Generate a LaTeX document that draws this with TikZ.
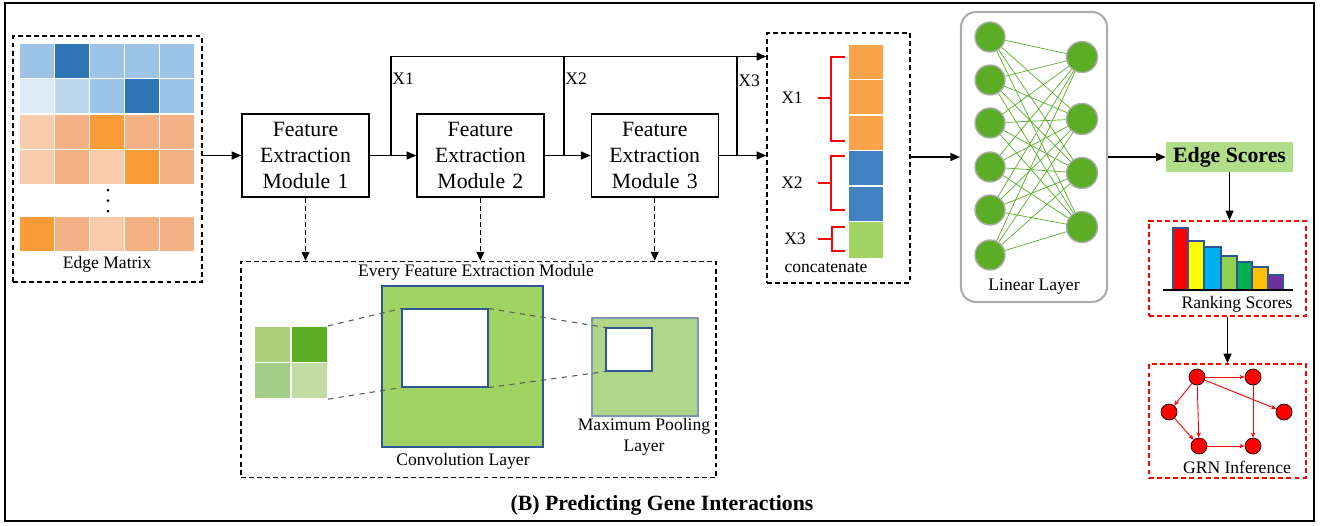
\documentclass[tikz,border=0pt]{standalone}
\usepackage{fontspec}
\setmainfont{LiberationSerif}[Extension=.ttf, UprightFont=*-Regular, BoldFont=*-Bold, ItalicFont=*-Italic, BoldItalicFont=*-BoldItalic]
\usepackage{tikz}
\usetikzlibrary{shapes,arrows,arrows.meta}
\usetikzlibrary{positioning}
\definecolor{lb}{HTML}{9DC3E6}
\definecolor{db}{HTML}{2E75B6}
\definecolor{vb}{HTML}{DEEBF7}
\definecolor{mb}{HTML}{BDD7EE}
\definecolor{pe}{HTML}{F8CBAD}
\definecolor{ta}{HTML}{F4B183}
\definecolor{og}{HTML}{FA9B3A}
\definecolor{vo}{HTML}{FBA349}
\definecolor{vbl}{HTML}{4382C2}
\definecolor{vgr}{HTML}{A0D564}
\definecolor{ngreen}{HTML}{5BAD26}
\definecolor{k1}{HTML}{ADCF78}
\definecolor{k3}{HTML}{A2CF88}
\definecolor{k4}{HTML}{C2DCA3}
\definecolor{convg}{HTML}{9FD462}
\definecolor{poolg}{HTML}{B0D68A}
\definecolor{poolline}{HTML}{7F96B2}
\definecolor{edgeblue}{HTML}{2F5597}
\definecolor{scoreg}{HTML}{B2DE8A}
\definecolor{bar1}{HTML}{FF0000}
\definecolor{bar2}{HTML}{FFFF00}
\definecolor{bar3}{HTML}{00B0F0}
\definecolor{bar4}{HTML}{92D050}
\definecolor{bar5}{HTML}{00B050}
\definecolor{bar6}{HTML}{FFC000}
\definecolor{bar7}{HTML}{7030A0}
\tikzstyle{module} = [rectangle, draw, line width=0.8pt, text width=2.2cm, align=center,
    minimum width=2.54cm, minimum height=1.66cm, font=\fontsize{12.4}{14.8}\selectfont]
\tikzstyle{dashbox} = [draw, line width=0.9pt, dash pattern=on 2.8pt off 1.8pt, inner sep=0pt]
\tikzstyle{redbox} = [draw=red, line width=0.9pt, dash pattern=on 2.8pt off 1.8pt, inner sep=0pt]
\tikzstyle{line} = [draw, line width=0.8pt, -{Triangle[length=5.5pt,width=4.6pt]}]
\tikzstyle{dline} = [draw, line width=0.8pt, dash pattern=on 2.8pt off 1.8pt, -{Triangle[length=5pt,width=4.4pt]}]
\tikzstyle{cell} = [draw=white, line width=0.4pt, minimum size=0.7cm, inner sep=0pt]
\tikzstyle{neuron} = [circle, draw=gray!65, line width=0.8pt, fill=ngreen, minimum size=0.6cm, inner sep=0pt]
\tikzstyle{gene} = [circle, draw, line width=0.4pt, fill=red, minimum size=0.32cm, inner sep=0pt]
\tikzstyle{lbl} = [font=\fontsize{10}{12}\selectfont, inner sep=0pt]
\tikzstyle{glink} = [draw=red, line width=0.5pt, -{Stealth[length=3pt,width=2.5pt]}]

\begin{document}
\begin{tikzpicture}[x=0.02cm,y=-0.02cm]
\useasboundingbox (0,0) rectangle (1321,525);
\draw[line width=0.8pt] (5,3) rectangle (1314,521);

% edge matrix
\node[dashbox, minimum width=3.78cm, minimum height=4.92cm] (edgebox) at (107.5,159) {};
\foreach \cols/\yy [count=\r] in {{lb,db,lb,lb,lb}/61, {vb,mb,lb,db,lb}/96,
    {pe,ta,og,ta,ta}/131.5, {pe,ta,pe,og,ta}/166.5, {og,ta,pe,ta,ta}/234}
  \foreach \c [count=\i from 0] in \cols
    \node[cell, fill=\c] (m-\r-\i) at (37+35*\i,\yy) {};
\foreach \d in {190,200.5,211}
  \fill (108,\d) circle (0.03cm);
\node[lbl] (emlab) at (107,264) {Edge Matrix};

% feature extraction modules
\node[module] (fem1) at (305.5,155.5) {Feature Extraction Module 1};
\node[module, right=0.93cm of fem1] (fem2) {Feature Extraction Module 2};
\node[module, right=0.92cm of fem2] (fem3) {Feature Extraction Module 3};

\node[dashbox, minimum width=2.86cm, minimum height=5cm] (concat) at (838.5,158) {};

\coordinate (s1) at (391,155.5);
\coordinate (s2) at (564,155.5);
\coordinate (s3) at (737,155.5);
\coordinate (t1) at (391,56.5);
\coordinate (t2) at (564,56.5);
\coordinate (t3) at (737,56.5);

\draw[line] (edgebox.east |- fem1.west) -- (fem1.west);
\draw[line] (fem1.east) -- (fem2.west);
\draw[line] (fem2.east) -- (fem3.west);
\draw[line] (fem3.east) -- (concat.west |- fem3.east);
\draw[line] (s1) -- (t1) -- (t1 -| concat.west);
\draw[line width=0.8pt] (s2) -- (t2);
\draw[line width=0.8pt] (s3) -- (t3);
\node[lbl, anchor=west] (bx1) at (392,79) {X1};
\node[lbl, anchor=west] (bx2) at (565,79) {X2};
\node[lbl, anchor=west] (bx3) at (738,81) {X3};

% every module
\node[dashbox, minimum width=9.5cm, minimum height=4.32cm] (every) at (478.5,369.5) {};
\draw[dline] (fem1.south) -- (fem1.south |- every.north);
\draw[dline] (fem2.south) -- (fem2.south |- every.north);
\draw[dline] (fem3.south) -- (fem3.south |- every.north);
\node[lbl] (evlab) at (476,272) {Every Feature Extraction Module};

\node[cell, fill=k1, minimum size=0.73cm] (k11) at (272.5,344.5) {};
\node[cell, fill=ngreen, minimum size=0.73cm] (k12) at (309.5,344.5) {};
\node[cell, fill=k3, minimum size=0.73cm] (k21) at (272.5,380.5) {};
\node[cell, fill=k4, minimum size=0.73cm] (k22) at (309.5,380.5) {};

\node[draw=edgeblue, line width=0.6pt, fill=convg, minimum size=3.22cm, inner sep=0pt] (conv) at (462.5,366.5) {};
\node[draw=edgeblue, line width=0.6pt, fill=white, minimum width=1.72cm, minimum height=1.56cm, inner sep=0pt] (convwin) at (445,348) {};
\node[lbl] (convlab) at (463,461) {Convolution Layer};

\node[draw=poolline, line width=0.6pt, fill=poolg, minimum width=2.12cm, minimum height=1.96cm, inner sep=0pt] (pool) at (645,367) {};
\node[draw=edgeblue, line width=0.6pt, fill=white, minimum width=0.92cm, minimum height=0.86cm, inner sep=0pt] (poolwin) at (629,349.5) {};
\node[lbl, align=center] (poollab) at (644,436.5) {Maximum Pooling\\Layer};

\draw[gray!70!black, line width=0.6pt, dashed] (k12.north east) -- (convwin.north west);
\draw[gray!70!black, line width=0.6pt, dashed] (k22.south east) -- (convwin.south west);
\draw[gray!70!black, line width=0.6pt, dashed] (convwin.north east) -- (poolwin.north west);
\draw[gray!70!black, line width=0.6pt, dashed] (convwin.south east) -- (poolwin.south west);

% concatenate
\foreach \yy [count=\i] in {61.5,97,132.5}
  \node[cell, fill=vo] (c-o\i) at (865.5,\yy) {};
\foreach \yy [count=\i] in {168,203.5}
  \node[cell, fill=vbl] (c-b\i) at (865.5,\yy) {};
\node[cell, fill=vgr, minimum height=0.74cm] (c-g1) at (865.5,239.5) {};
\draw[red, line width=0.9pt] (845,57) -- (831,57) -- (831,141) -- (845,141) (818,98) -- (831,98);
\draw[red, line width=0.9pt] (845,156) -- (831,156) -- (831,210) -- (845,210) (818,183) -- (831,183);
\draw[red, line width=0.9pt] (845,227) -- (832,227) -- (832,251) -- (845,251) (818,239) -- (832,239);
\node[lbl] (cx1) at (792,98) {X1};
\node[lbl] (cx2) at (792,183) {X2};
\node[lbl] (cx3) at (795,239) {X3};
\node[lbl] (catlab) at (826,268) {concatenate};

% linear layer
\node[draw=gray!65, line width=1.2pt, rounded corners=0.3cm, minimum width=2.92cm, minimum height=5.8cm] (linear) at (1034,157) {};
\draw[line] (concat.east |- linear.west) -- (linear.west);
\foreach \yy [count=\i] in {37,80,123,167,210,255}
  \node[neuron] (in\i) at (990,\yy) {};
\foreach \yy [count=\j] in {57,119,173,227}
  \node[neuron, minimum size=0.62cm] (out\j) at (1082,\yy) {};
\foreach \i in {1,...,6}
  \foreach \j in {1,...,4}
    \draw[ngreen, line width=0.4pt] (in\i) -- (out\j);
\node[lbl] (linlab) at (1034,287) {Linear Layer};

% scores
\node[fill=scoreg, minimum width=2.54cm, minimum height=0.6cm, inner sep=0pt,
      font=\bfseries\fontsize{12.4}{14.8}\selectfont] (scores) at (1229.5,157) {Edge Scores};
\draw[line] (linear.east) -- (scores.west);

\node[redbox, minimum width=3.14cm, minimum height=1.9cm] (rank) at (1227.5,268.5) {};
\draw[line] (scores.south) -- (scores.south |- rank.north);
\foreach \xa/\xb/\top [count=\k] in {1173/1188/228, 1188/1204/241, 1204/1221/247,
    1221/1237/256, 1237/1252/262, 1252/1268/267, 1268/1283/275}
  \filldraw[fill=bar\k, draw=edgeblue, line width=0.6pt] (\xa,\top) rectangle (\xb,290);
\draw[line width=0.6pt] (1163,290) -- (1293,290);
\node[lbl] (ranklab) at (1237,304) {Ranking Scores};

\node[redbox, minimum width=3.14cm, minimum height=2.28cm] (grn) at (1227.5,421) {};
\draw[line] (rank.south) -- (grn.north);
\node[gene] (g1) at (1197,377) {};
\node[gene] (g2) at (1253,377) {};
\node[gene] (g3) at (1169,412) {};
\node[gene] (g4) at (1284,412) {};
\node[gene] (g5) at (1199,446) {};
\node[gene] (g6) at (1253,446) {};
\draw[glink] (g1) -- (g2);
\draw[glink] (g1) -- (g3);
\draw[glink] (g1) -- (g5);
\draw[glink] (g1) -- (g4);
\draw[glink] (g2) -- (g6);
\draw[glink] (g3) -- (g5);
\draw[glink] (g5) -- (g6);
\node[lbl] (grnlab) at (1237,467) {GRN Inference};

\node[font=\bfseries\fontsize{12.4}{14.8}\selectfont] (title) at (662,505) {(B) Predicting Gene Interactions};
\end{tikzpicture}
\end{document}
